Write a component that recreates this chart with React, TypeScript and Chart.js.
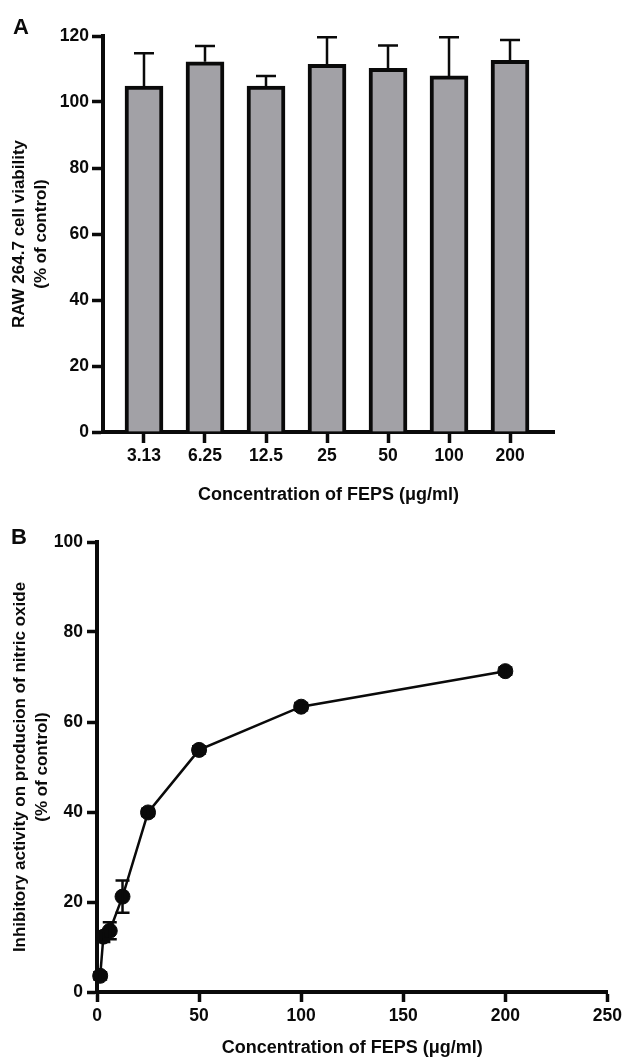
import React, { useEffect, useRef } from 'react';
import { Chart, registerables } from 'chart.js';

Chart.register(...registerables);

const FONT = '"Liberation Sans", Arial, Helvetica, sans-serif';
const INK = '#0a0a0a';

// Panel A: cell viability
const viabilityLabels = ['3.13', '6.25', '12.5', '25', '50', '100', '200'];
const viabilityValues = [104.8, 112.2, 104.8, 111.4, 110.2, 107.9, 112.6];
const viabilityErrors = [10.0, 4.8, 3.1, 8.2, 6.9, 11.7, 6.2];

// Panel B: inhibitory activity on NO production
const inhibConc = [1.56, 3.13, 6.25, 12.5, 25, 50, 100, 200];
const inhibValues = [3.6, 12.3, 13.6, 21.2, 39.9, 53.8, 63.4, 71.3];
const inhibErrors = [0.8, 1.2, 1.9, 3.6, 0.8, 0.8, 0.8, 0.8];

const errorBarsPlugin = {
  id: 'errorBars',
  afterDatasetsDraw(chart: any, _args: any, opts: any) {
    if (!opts || !opts.errors) return;
    const { ctx } = chart;
    const xs = chart.scales.x;
    const ys = chart.scales.y;
    const ds = chart.data.datasets[0];
    ctx.save();
    ctx.strokeStyle = INK;
    ctx.lineWidth = opts.lineWidth;
    ctx.lineCap = 'butt';
    ds.data.forEach((pt: any, i: number) => {
      const e = opts.errors[i];
      const px = xs.getPixelForValue(pt.x);
      const py = ys.getPixelForValue(pt.y);
      const top = ys.getPixelForValue(pt.y + e);
      const bot = opts.upOnly ? py : ys.getPixelForValue(pt.y - e);
      const hw = opts.capWidth / 2;
      ctx.beginPath();
      ctx.moveTo(px, bot);
      ctx.lineTo(px, top);
      ctx.moveTo(px - hw, top);
      ctx.lineTo(px + hw, top);
      if (!opts.upOnly) {
        ctx.moveTo(px - hw, bot);
        ctx.lineTo(px + hw, bot);
      }
      ctx.stroke();
    });
    ctx.restore();
  },
};

const panelLetterPlugin = {
  id: 'panelLetter',
  afterDraw(chart: any, _args: any, opts: any) {
    if (!opts || !opts.text) return;
    const { ctx } = chart;
    ctx.save();
    ctx.font = `bold 22px ${FONT}`;
    ctx.fillStyle = INK;
    ctx.textAlign = 'center';
    ctx.textBaseline = 'middle';
    ctx.fillText(opts.text, opts.x, opts.y);
    ctx.restore();
  },
};

function axisCommon(tickLength: number) {
  return {
    border: { display: true, color: INK, width: 4 },
    grid: {
      display: true,
      drawOnChartArea: false,
      drawTicks: true,
      tickLength,
      tickWidth: 3.5,
      tickColor: INK,
      color: INK,
      offset: false,
    },
  };
}

export default function App() {
  const refA = useRef<HTMLCanvasElement>(null);
  const refB = useRef<HTMLCanvasElement>(null);

  useEffect(() => {
    const tickFont = { family: FONT, size: 17.5, weight: 'bold' as const };
    const titleFont = { family: FONT, size: 18, weight: 'bold' as const, lineHeight: 1 };
    const yTitleFont = { family: FONT, size: 17, weight: 'bold' as const, lineHeight: 1.27 };

    const chartA = new Chart(refA.current as HTMLCanvasElement, {
      type: 'bar',
      data: {
        datasets: [
          {
            data: viabilityValues.map((v, i) => ({ x: i, y: v })),
            backgroundColor: '#a2a1a6',
            borderColor: INK,
            borderWidth: 4,
            borderSkipped: 'bottom',
            barThickness: 38,
          } as any,
        ],
      },
      options: {
        responsive: false,
        animation: false,
        devicePixelRatio: 1,
        layout: { padding: { left: 0, right: 72, top: 36, bottom: 0 } },
        plugins: {
          legend: { display: false },
          tooltip: { enabled: false },
          errorBars: { errors: viabilityErrors, upOnly: true, capWidth: 20, lineWidth: 2.5 },
          panelLetter: { text: 'A', x: 21, y: 28 },
        } as any,
        scales: {
          x: {
            type: 'linear',
            min: -0.672,
            max: 6.721,
            offset: false,
            z: 1,
            ...axisCommon(11),
            afterBuildTicks: (s: any) => {
              s.ticks = viabilityLabels.map((_, i) => ({ value: i }));
            },
            afterFit: (s: any) => {
              s.height = 80;
            },
            ticks: {
              font: tickFont,
              color: INK,
              padding: 3,
              maxRotation: 0,
              autoSkip: false,
              callback: (v: any) => viabilityLabels[Math.round(Number(v))] ?? '',
            },
            title: {
              display: true,
              text: 'Concentration of FEPS (μg/ml)',
              font: titleFont,
              color: INK,
              padding: { top: 0, bottom: 8 },
            },
          } as any,
          y: {
            type: 'linear',
            min: 0,
            max: 120,
            ...axisCommon(11),
            afterFit: (s: any) => {
              s.width = 103;
            },
            ticks: { stepSize: 20, font: tickFont, color: INK, padding: 3 },
            title: {
              display: true,
              text: ['RAW 264.7 cell viability', '(% of control)'],
              font: yTitleFont,
              color: INK,
              padding: { top: 9, bottom: 0 },
            },
          } as any,
        },
      },
      plugins: [errorBarsPlugin, panelLetterPlugin],
    });

    const chartB = new Chart(refB.current as HTMLCanvasElement, {
      type: 'line',
      data: {
        datasets: [
          {
            data: inhibConc.map((c, i) => ({ x: c, y: inhibValues[i] })),
            borderColor: INK,
            borderWidth: 2.5,
            backgroundColor: INK,
            pointBackgroundColor: INK,
            pointBorderColor: INK,
            pointRadius: 7.5,
            pointBorderWidth: 1,
            tension: 0,
            fill: false,
            clip: false,
          } as any,
        ],
      },
      options: {
        responsive: false,
        animation: false,
        devicePixelRatio: 1,
        layout: { padding: { left: 0, right: 17, top: 30, bottom: 0 } },
        plugins: {
          legend: { display: false },
          tooltip: { enabled: false },
          errorBars: { errors: inhibErrors, upOnly: false, capWidth: 14, lineWidth: 2.5 },
          panelLetter: { text: 'B', x: 19, y: 25.5 },
        } as any,
        scales: {
          x: {
            type: 'linear',
            min: 0,
            max: 250,
            ...axisCommon(10),
            afterFit: (s: any) => {
              s.height = 65;
            },
            ticks: { stepSize: 50, font: tickFont, color: INK, padding: 4, maxRotation: 0 },
            title: {
              display: true,
              text: 'Concentration of FEPS (μg/ml)',
              font: titleFont,
              color: INK,
              padding: { top: 0, bottom: 0 },
            },
          } as any,
          y: {
            type: 'linear',
            min: 0,
            max: 100,
            ...axisCommon(10),
            afterFit: (s: any) => {
              s.width = 97;
            },
            ticks: { stepSize: 20, font: tickFont, color: INK, padding: 4 },
            title: {
              display: true,
              text: ['Inhibitory activity on producion of nitric oxide', '(% of control)'],
              font: yTitleFont,
              color: INK,
              padding: { top: 10, bottom: 0 },
            },
          } as any,
        },
      },
      plugins: [errorBarsPlugin, panelLetterPlugin],
    });

    return () => {
      chartA.destroy();
      chartB.destroy();
    };
  }, []);

  return (
    <div style={{ position: 'absolute', left: 0, top: 0, width: 626, height: 1057, background: '#fff' }}>
      <canvas ref={refA} width={626} height={512} style={{ position: 'absolute', left: 0, top: 0, width: 626, height: 512 }} />
      <canvas ref={refB} width={626} height={545} style={{ position: 'absolute', left: 0, top: 512, width: 626, height: 545 }} />
    </div>
  );
}
